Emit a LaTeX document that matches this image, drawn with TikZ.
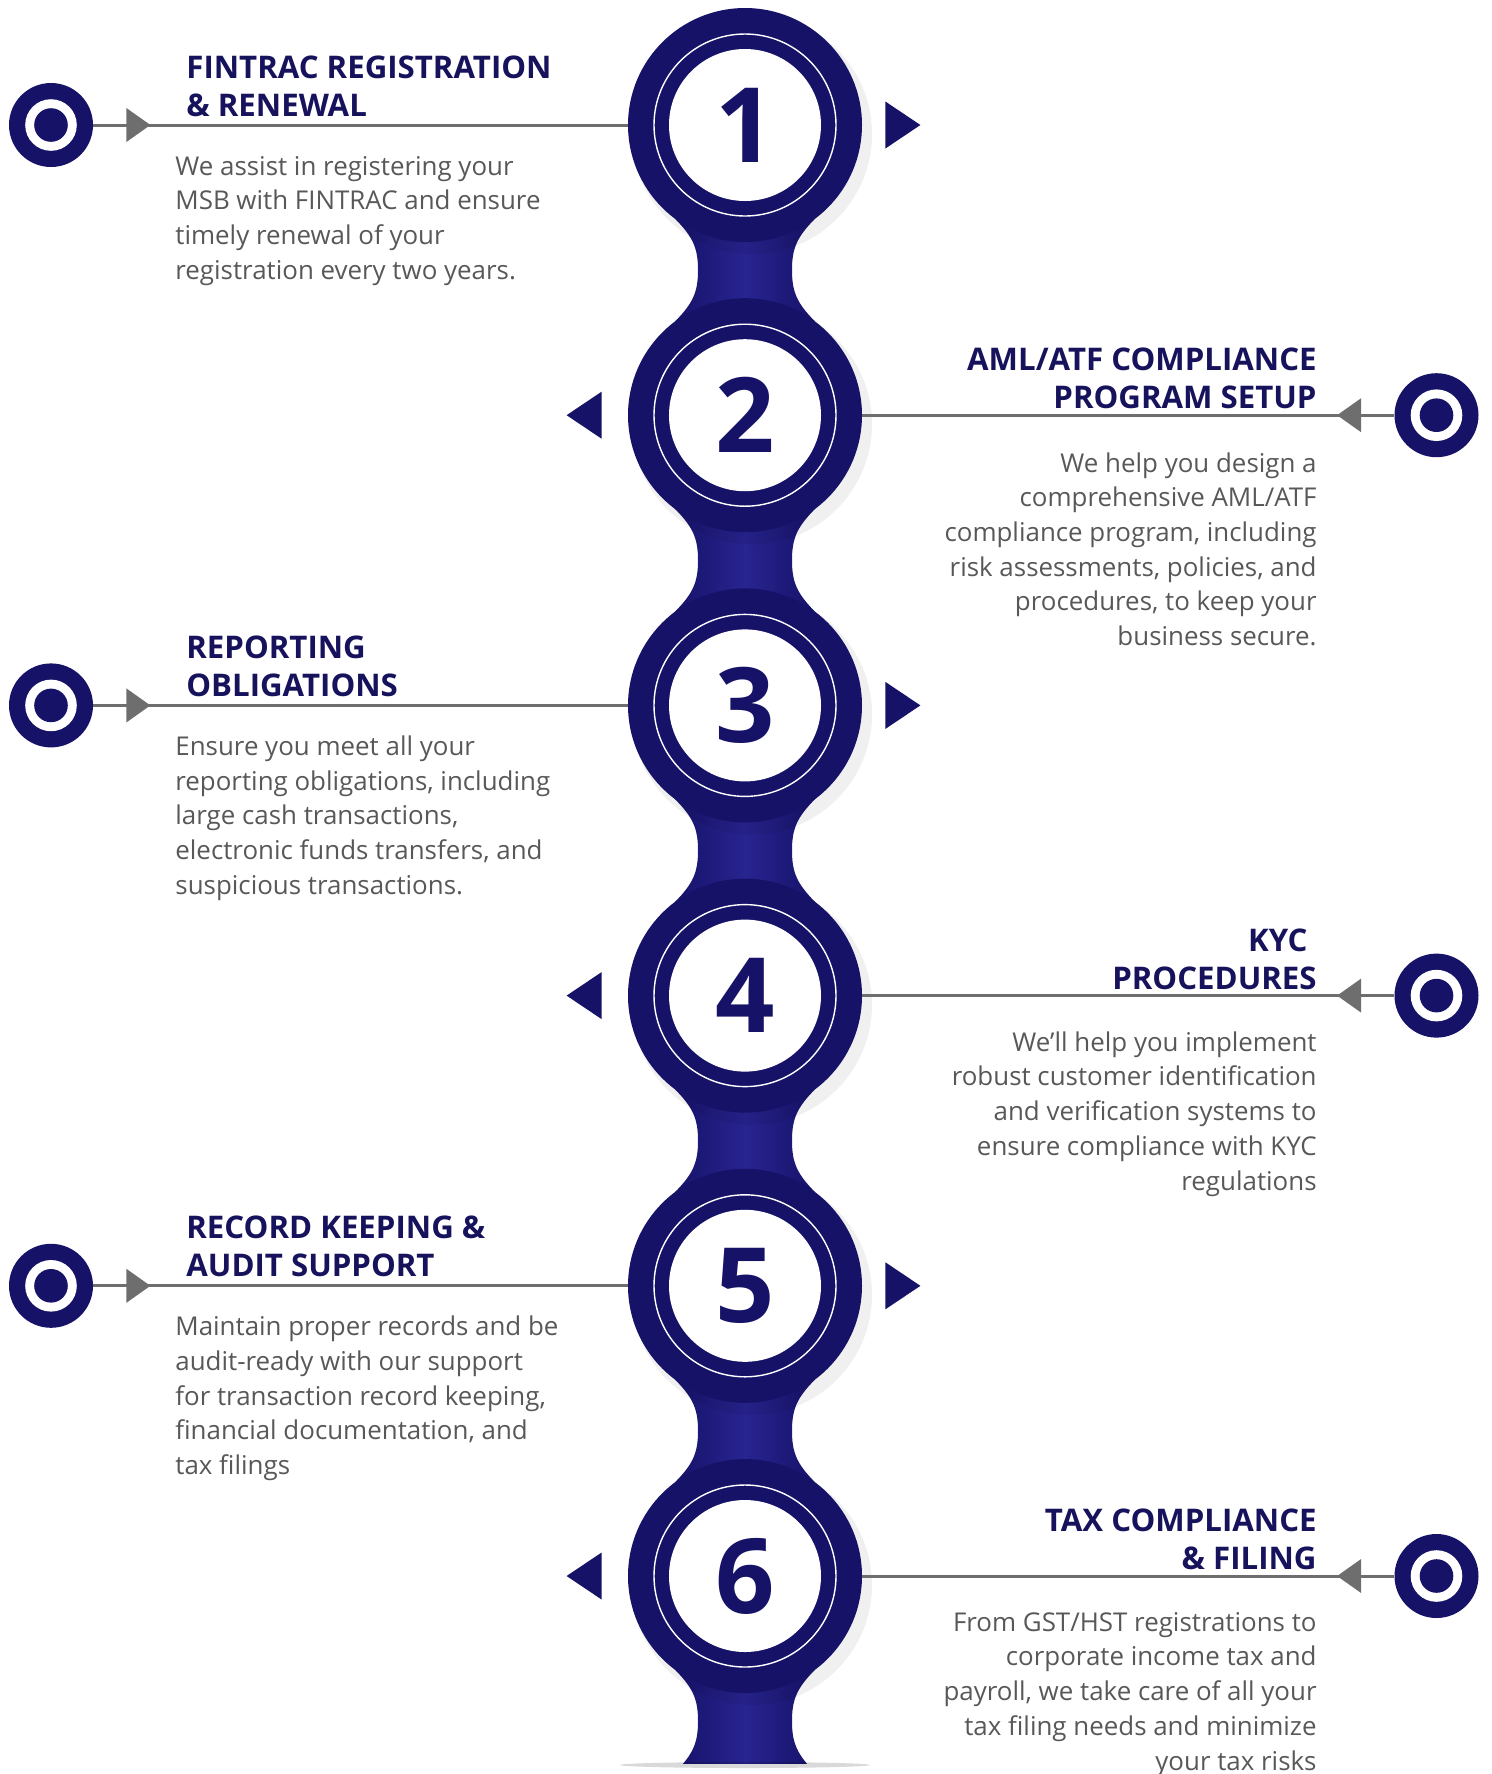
\documentclass[tikz,border=0pt]{standalone}
\usepackage{fontspec}
\setmainfont{Open Sans}
\usetikzlibrary{calc}

\definecolor{navy}{RGB}{22,18,104}
\definecolor{navyglow}{RGB}{40,36,145}
\definecolor{headnavy}{RGB}{22,18,92}
\definecolor{bodygray}{RGB}{88,88,88}
\definecolor{linegray}{RGB}{110,110,110}

\newcommand\headfont{\fontsize{15.6}{19}\selectfont\bfseries}
\newcommand\bodyfont{\fontsize{12.95}{17.35}\selectfont}

\tikzset{
  numdisc/.style = {circle, fill = navy, minimum size = 117pt, inner sep = 0pt, text = navy,
    font = \fontsize{52}{52}\selectfont\bfseries,
    path picture = {
      \fill [white] (path picture bounding box.center) circle (38pt);
      \draw [white, line width = 0.7pt] (path picture bounding box.center) circle (45.5pt);
    }},
  target/.style = {circle, fill = navy, minimum size = 42pt, inner sep = 0pt,
    path picture = {
      \fill [white] (path picture bounding box.center) circle (12.9pt);
      \fill [navy] (path picture bounding box.center) circle (8.4pt);
    }},
  conn/.style = {linegray, line width = 1.5pt},
  % base = baseline of the last line
  headl/.style = {anchor = base west, align = left, inner sep = 0pt, font = \headfont, text = headnavy},
  headr/.style = {anchor = base east, align = right, inner sep = 0pt, font = \headfont, text = headnavy},
  bodyl/.style = {anchor = base west, align = left, inner sep = 0pt, font = \bodyfont, text = bodygray},
  bodyr/.style = {anchor = base east, align = right, inner sep = 0pt, font = \bodyfont, text = bodygray},
}

\begin{document}
\begin{tikzpicture}[x = 0.5pt, y = -0.5pt]
  \useasboundingbox (0,0) rectangle (1492,1774);

  % spine between the discs
  \begin{scope}
    \clip (0,0) rectangle (1492,1763);
    \foreach \k in {0,...,5} {
      \pgfmathsetmacro\cy{125+290.2*\k}
      \pgfmathsetmacro\my{\cy+145.1}
      \pgfmathsetmacro\ny{\cy+290.2}
      \shade [left color = navy, right color = navy, middle color = navyglow]
        (675,\cy+93.7) .. controls (693,\cy+112) and (698,\my-22) .. (698,\my)
        .. controls (698,\my+22) and (693,\ny-112) .. (675,\ny-93.7)
        -- (815,\ny-93.7) .. controls (797,\ny-112) and (792,\my+22) .. (792,\my)
        .. controls (792,\my-22) and (797,\cy+112) .. (815,\cy+93.7) -- cycle;
    }
  \end{scope}
  \fill [black, opacity = 0.15] (745,1765) ellipse (125 and 3);

  % soft shadows
  \foreach \k in {1,...,6}
    \fill [black, opacity = 0.06] (752, {125+290.2*(\k-1)+9}) circle (60pt);

  \node (num1) [numdisc] at (745,125) {1};
  \node (num2) [numdisc] at (745,415.2) {2};
  \node (num3) [numdisc] at (745,705.4) {3};
  \node (num4) [numdisc] at (745,995.6) {4};
  \node (num5) [numdisc] at (745,1285.8) {5};
  \node (num6) [numdisc] at (745,1576) {6};

  \node (tgt1) [target] at (51,125) {};
  \node (tgt2) [target] at (1436.5,415.2) {};
  \node (tgt3) [target] at (51,705.4) {};
  \node (tgt4) [target] at (1436.5,995.6) {};
  \node (tgt5) [target] at (51,1285.8) {};
  \node (tgt6) [target] at (1436.5,1576) {};

  \draw [conn] (tgt1) -- (num1);
  \draw [conn] (num2) -- (tgt2);
  \draw [conn] (tgt3) -- (num3);
  \draw [conn] (num4) -- (tgt4);
  \draw [conn] (tgt5) -- (num5);
  \draw [conn] (num6) -- (tgt6);

  % arrow heads on the lines
  \fill [linegray] ($(tgt1.east)+(57,0)$) -- ++(-24,17) -- ++(0,-34) -- cycle;
  \fill [linegray] ($(tgt3.east)+(57,0)$) -- ++(-24,17) -- ++(0,-34) -- cycle;
  \fill [linegray] ($(tgt5.east)+(57,0)$) -- ++(-24,17) -- ++(0,-34) -- cycle;
  \fill [linegray] ($(tgt2.west)+(-57,0)$) -- ++(24,17) -- ++(0,-34) -- cycle;
  \fill [linegray] ($(tgt4.west)+(-57,0)$) -- ++(24,17) -- ++(0,-34) -- cycle;
  \fill [linegray] ($(tgt6.west)+(-57,0)$) -- ++(24,17) -- ++(0,-34) -- cycle;

  % pointers beside the discs
  \fill [navy] ($(num1.east)+(58,0)$) -- ++(-35,23.5) -- ++(0,-47) -- cycle;
  \fill [navy] ($(num3.east)+(58,0)$) -- ++(-35,23.5) -- ++(0,-47) -- cycle;
  \fill [navy] ($(num5.east)+(58,0)$) -- ++(-35,23.5) -- ++(0,-47) -- cycle;
  \fill [navy] ($(num2.west)+(-61,0)$) -- ++(35,23.5) -- ++(0,-47) -- cycle;
  \fill [navy] ($(num4.west)+(-61,0)$) -- ++(35,23.5) -- ++(0,-47) -- cycle;
  \fill [navy] ($(num6.west)+(-61,0)$) -- ++(35,23.5) -- ++(0,-47) -- cycle;

  \node (head1) [headl] at (186,116) {FINTRAC REGISTRATION\\\& RENEWAL};
  \node (body1) [bodyl] at (175,279.1) {We assist in registering your\\MSB with FINTRAC and ensure\\timely renewal of your\\registration every two years.};

  \node (head2) [headr] at (1317,408.5) {AML/ATF COMPLIANCE\\PROGRAM SETUP};
  \node (body2) [bodyr] at (1317,645.5) {We help you design a\\comprehensive AML/ATF\\compliance program, including\\risk assessments, policies, and\\procedures, to keep your\\business secure.};

  \node (head3) [headl] at (186,696.4) {REPORTING\\OBLIGATIONS};
  \node (body3) [bodyl] at (175,894.2) {Ensure you meet all your\\reporting obligations, including\\large cash transactions,\\electronic funds transfers, and\\suspicious transactions.};

  \node (head4) [headr] at (1317,989) {KYC\hspace*{4.5pt}\\PROCEDURES};
  \node (body4) [bodyr] at (1317,1190) {We'll help you implement\\robust customer identification\\and verification systems to\\ensure compliance with KYC\\regulations};

  \node (head5) [headl] at (186,1276.8) {RECORD KEEPING \&\\AUDIT SUPPORT};
  \node (body5) [bodyl] at (175,1474.6) {Maintain proper records and be\\audit-ready with our support\\for transaction record keeping,\\financial documentation, and\\tax filings};

  \node (head6) [headr] at (1317,1569) {TAX COMPLIANCE\\\& FILING};
  \node (body6) [bodyr] at (1317,1770) {From GST/HST registrations to\\corporate income tax and\\payroll, we take care of all your\\tax filing needs and minimize\\your tax risks};
\end{tikzpicture}
\end{document}
